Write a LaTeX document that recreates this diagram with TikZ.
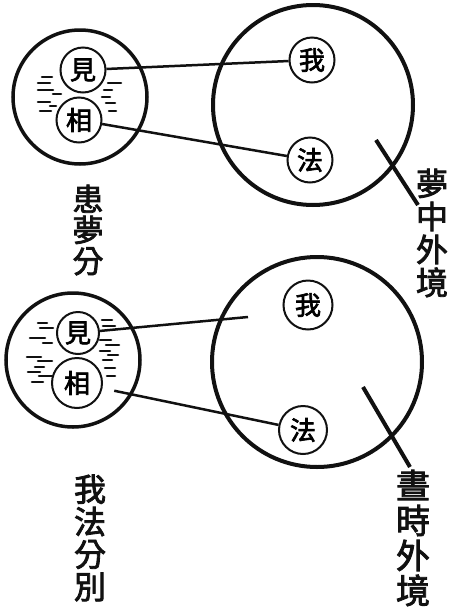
\documentclass[tikz,border=0pt]{standalone}
\usepackage{fontspec}
\newfontfamily\cjk{Noto Sans CJK TC}[FakeBold=2.5]
\usetikzlibrary{positioning}
\definecolor{inkBlack}{HTML}{111111}
\tikzset{
  mindCircle/.style={circle, draw=inkBlack, line width=3.5pt, minimum size=134pt, inner sep=0pt},
  worldCircle/.style={circle, draw=inkBlack, line width=4pt, inner sep=0pt},
  seedCircle/.style={circle, draw=inkBlack, line width=2pt, minimum size=45pt, inner sep=0pt,
                     font=\cjk\fontsize{26}{26}\selectfont},
  link/.style={draw=inkBlack, line width=2.5pt},
  pointer/.style={draw=inkBlack, line width=4pt},
  streak/.style={draw=inkBlack, line width=2.6pt, line cap=round},
  vlabel/.style={align=center, inner sep=0pt, text=inkBlack},
}

\begin{document}
\begin{tikzpicture}[x=1pt, y=-1pt]
  \useasboundingbox (0,0) rectangle (448,611);

  % top pair: dream
  \node[mindCircle] (mindA) at (80,97) {};
  \node[worldCircle, minimum size=200pt] (worldA) at (313,105) {};
  \node[seedCircle] (jianA) at (83,70) {見};
  \node[seedCircle, below=3pt of jianA, xshift=-4pt] (xiangA) {相};
  \node[seedCircle] (woA) at (312,60) {我};
  \node[seedCircle] (faA) at (310,160) {法};
  \draw[link] (jianA) -- (woA);
  \draw[link] (xiangA) -- (faA);
  \foreach \x/\y/\l in {42/77/10, 38/83/12, 38/90/15, 53/94/8, 38/102/12, 50/106/6, 40/111/11,
                         108/83/13, 104/90/8, 102/97/8, 106/103/9, 109/111/7}
    \draw[streak] (\x,\y) -- ++(\l,0);
  \coordinate (tipA) at (376,140);
  \coordinate (tailA) at (418,205);
  \draw[pointer] (tipA) -- (tailA);
  \node[vlabel, font=\cjk\fontsize{32}{33}\selectfont] (dreamWorld) at (432,233) {夢\\中\\外\\境};
  \node[vlabel, font=\cjk\fontsize{31}{31}\selectfont] (dreamMind) at (88,230) {患\\夢\\分};

  % bottom pair: waking
  \node[mindCircle] (mindB) at (73,360) {};
  \node[worldCircle, minimum size=210pt] (worldB) at (317,362) {};
  \node[seedCircle, minimum size=42pt] (jianB) at (78,333) {見};
  \node[seedCircle, minimum size=50pt] (xiangB) at (77,383) {相};
  \node[seedCircle, minimum size=49pt] (woB) at (308,305) {我};
  \node[seedCircle, minimum size=48pt] (faB) at (303,430) {法};
  \coordinate (endB) at (248,317);
  \draw[link] (jianB) -- (endB);
  \draw[link, shorten <=12pt] (xiangB) -- (faB);
  \foreach \x/\y/\l in {38/323/9, 40/328/13, 30/338/15, 43/343/9, 27/357/14, 38/361/14,
                         35/367/9, 28/372/12, 39/376/13, 32/382/11,
                         102/320/10, 103/326/12, 100/340/11, 106/345/13, 100/351/10,
                         108/355/10, 103/360/9, 105/368/10, 107/376/8}
    \draw[streak] (\x,\y) -- ++(\l,0);
  \coordinate (tipB) at (363,387);
  \coordinate (tailB) at (410,467);
  \draw[pointer] (tipB) -- (tailB);
  \node[vlabel, font=\cjk\fontsize{34}{35}\selectfont] (dayWorld) at (413,538) {晝\\時\\外\\境};
  \node[vlabel, font=\cjk\fontsize{32}{32.5}\selectfont] (dayMind) at (90,538) {我\\法\\分\\別};
\end{tikzpicture}
\end{document}
